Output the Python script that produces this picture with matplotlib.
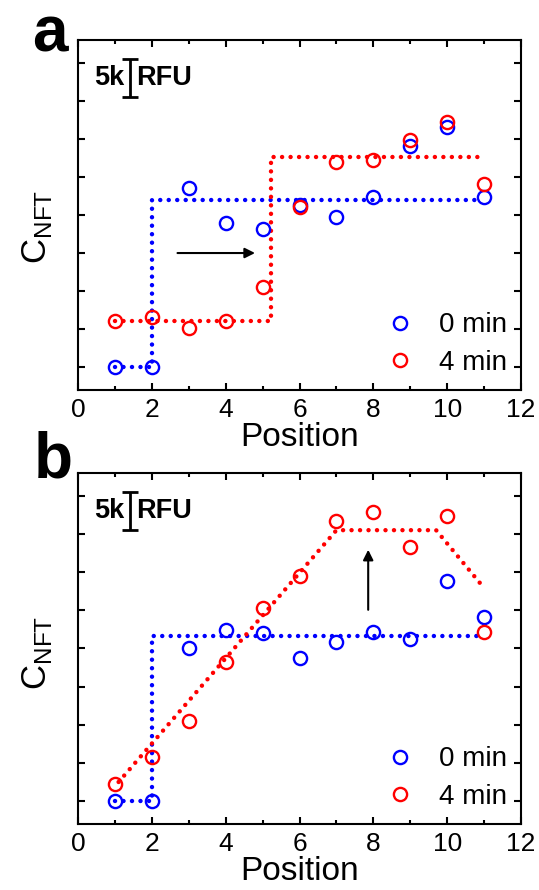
import numpy as np
import matplotlib.pyplot as plt
from matplotlib.ticker import MultipleLocator

plt.rcParams['font.family'] = ['Liberation Sans', 'DejaVu Sans']
plt.rcParams['mathtext.fontset'] = 'custom'
plt.rcParams['mathtext.rm'] = 'Liberation Sans'

# data, signal in kRFU (zero is arbitrary)
positions = [1, 2, 3, 4, 5, 6, 7, 8, 9, 10, 11]
labels = ['0 min', '4 min']

a_0min = [0, 0, 23.5, 19.0, 18.2, 21.3, 19.7, 22.3, 29.1, 31.6, 22.4]
a_4min = [6.1, 6.6, 5.1, 6.1, 10.6, 21.0, 26.9, 27.2, 29.8, 32.2, 24.1]
a_fit0_x = [1, 2, 2, 10.95]
a_fit0_y = [0, 0, 22.0, 22.0]
a_fit4_x = [1, 5.23, 5.23, 10.9]
a_fit4_y = [6.1, 6.1, 27.6, 27.6]

b_0min = [0, 0, 20.1, 22.4, 22.0, 18.8, 20.8, 22.1, 21.2, 28.9, 24.1]
b_4min = [2.2, 5.8, 10.5, 18.2, 25.3, 29.5, 36.7, 37.9, 33.3, 37.4, 22.1]
b_fit0_x = [1, 2, 2, 10.95]
b_fit0_y = [0, 0, 21.6, 21.6]
b_fit4_x = [1.1, 7, 9.7, 10.9]
b_fit4_y = [2.5, 35.5, 35.5, 28.5]

# arrows (start, end)
a_arrow = ((2.62, 15.0), (4.87, 15.0))
b_arrow = ((7.86, 24.7), (7.86, 33.3))

fig = plt.figure(figsize=(5.39, 8.90), dpi=100)


def panel(ax, y0, y4, f0x, f0y, f4x, f4y, arrow, ylab_y):
    dots = dict(linestyle=(0, (0.01, 1.9)), linewidth=3.2, dash_capstyle='round')
    ax.plot(f0x, f0y, color='blue', **dots)
    ax.plot(f4x, f4y, color='red', **dots)
    ax.plot(positions, y0, 'o', mfc='none', mec='blue', mew=1.7, ms=9.5, label=labels[0])
    ax.plot(positions, y4, 'o', mfc='none', mec='red', mew=1.7, ms=9.5, label=labels[1])

    ax.annotate('', xy=arrow[1], xytext=arrow[0],
                arrowprops=dict(arrowstyle='-|>', color='black', lw=1.5, mutation_scale=15))

    # 5k RFU scale bar
    ax.errorbar([1.4], [38.0], yerr=[2.5], color='black', capsize=6, elinewidth=2, capthick=2)
    ax.text(1.25, 38.0, '5k', fontsize=19.5, fontweight='bold', ha='right', va='center')
    ax.text(1.58, 38.0, 'RFU', fontsize=19.5, fontweight='bold', ha='left', va='center')

    ax.set_xlim(0, 12)
    ax.set_ylim(-3, 43)
    ax.xaxis.set_major_locator(MultipleLocator(2))
    ax.xaxis.set_minor_locator(MultipleLocator(1))
    ax.yaxis.set_major_locator(MultipleLocator(5))
    ax.set_yticklabels([])
    ax.tick_params(which='both', direction='in', top=True, right=True, width=1.5)
    ax.tick_params(which='major', length=5, labelsize=19, pad=6)
    ax.tick_params(which='minor', length=3)
    ax.tick_params(axis='y', left=True, labelleft=False)
    for s in ax.spines.values():
        s.set_linewidth(1.5)

    ax.set_xlabel('Position', fontsize=24, labelpad=0)
    ax.set_ylabel(r'C$_{\mathrm{NFT}}$', fontsize=25)
    ax.yaxis.set_label_coords(-0.055, ylab_y)

    ax.legend(loc='lower right', bbox_to_anchor=(0.968, 0.04), frameon=False,
              fontsize=20, handlelength=1.4, handletextpad=0.7, labelspacing=0.42,
              borderpad=0, borderaxespad=0)


ax_a = fig.add_axes([0.1447, 0.5618, 0.822, 0.3933])
panel(ax_a, a_0min, a_4min, a_fit0_x, a_fit0_y, a_fit4_x, a_fit4_y, a_arrow, 0.466)

ax_b = fig.add_axes([0.1447, 0.0742, 0.822, 0.3944])
panel(ax_b, b_0min, b_4min, b_fit0_x, b_fit0_y, b_fit4_x, b_fit4_y, b_arrow, 0.487)

fig.text(0.059, 0.9416, 'a', fontsize=46, fontweight='bold', va='baseline')
fig.text(0.062, 0.464, 'b', fontsize=46, fontweight='bold', va='baseline')

fig.savefig('out.png', dpi=100)
